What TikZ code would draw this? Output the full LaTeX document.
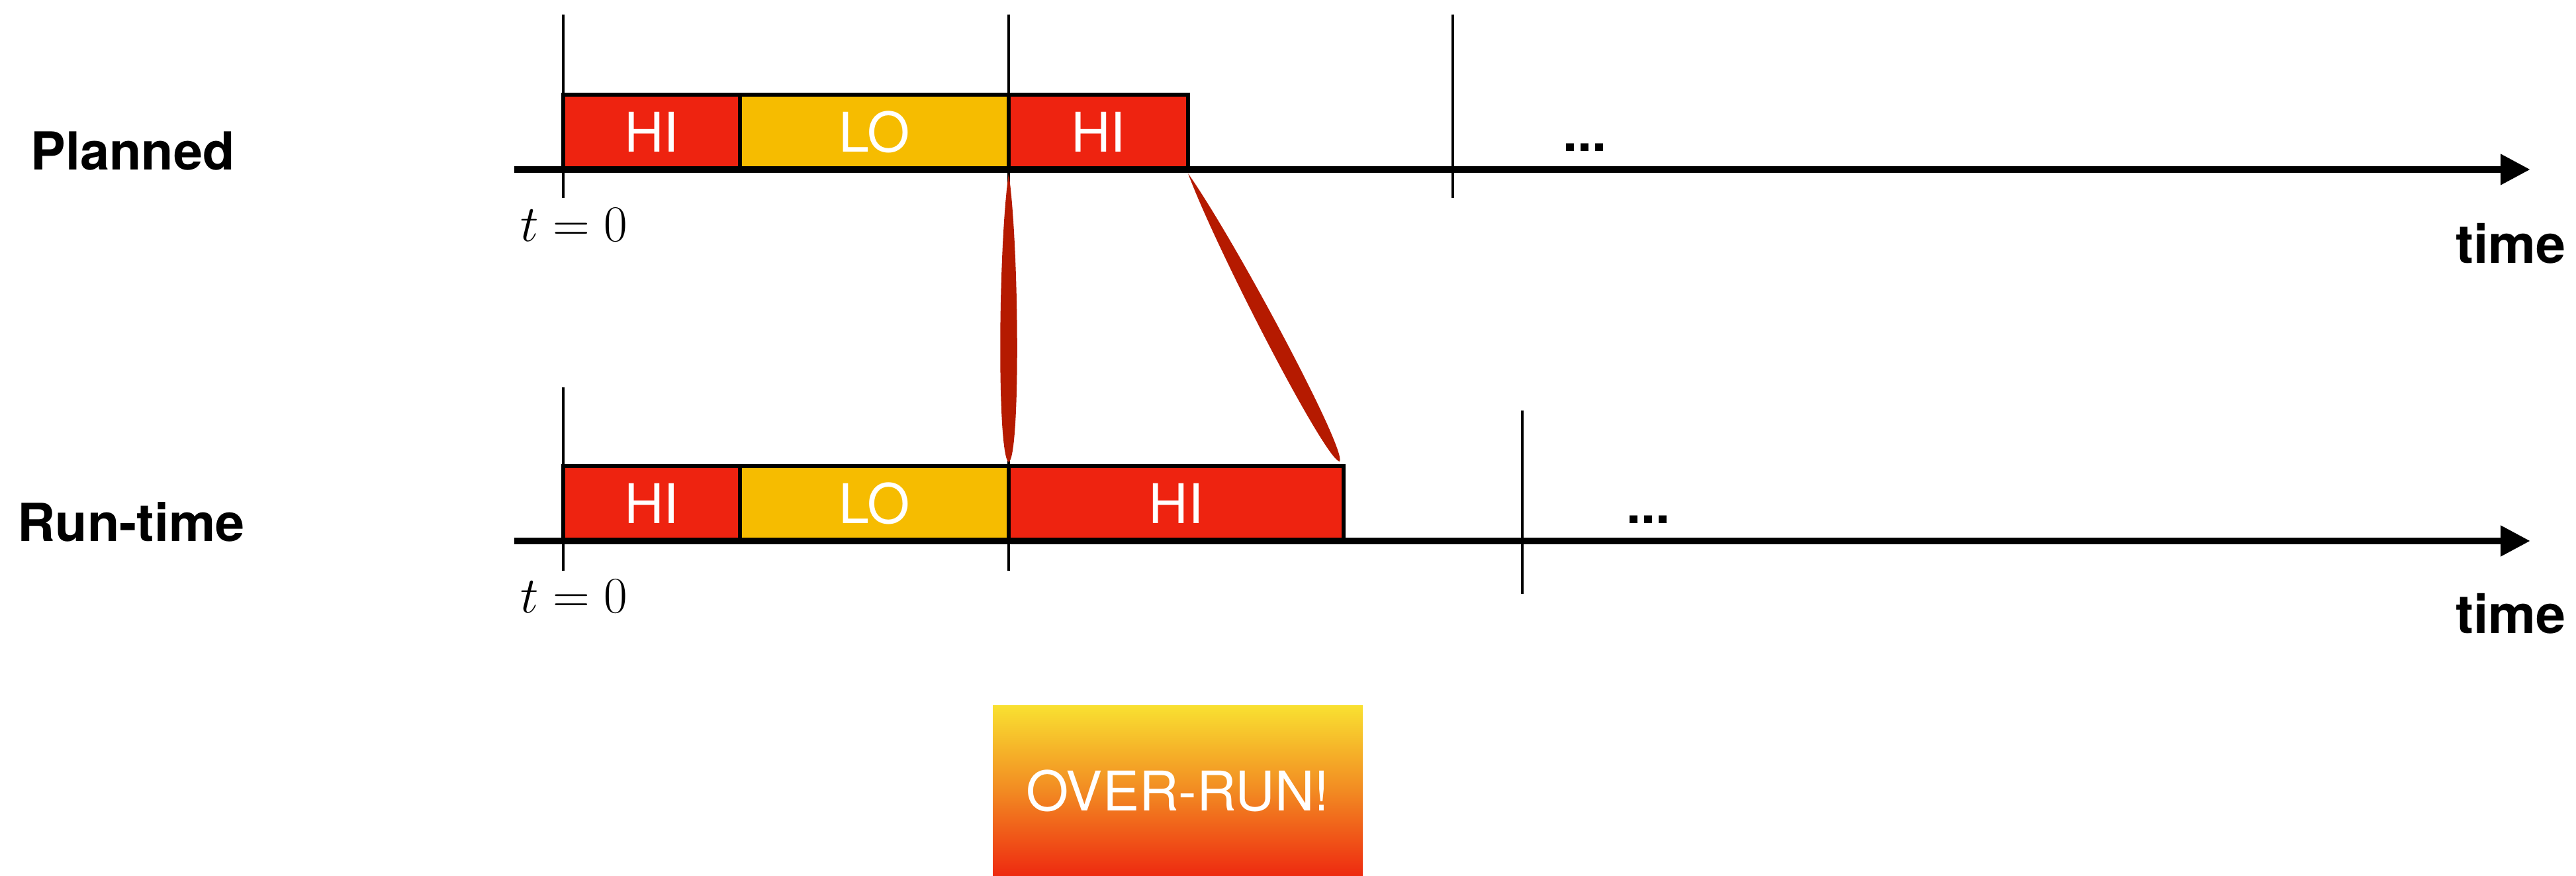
\RequirePackage{fix-cm}
\documentclass[tikz,border=0pt]{standalone}
\usepackage[no-math]{fontspec}
\setsansfont{TeX Gyre Heros}
\usetikzlibrary{arrows.meta, calc}
\definecolor{hired}{HTML}{EE2310}
\definecolor{loamber}{HTML}{F6BC00}
\definecolor{brushred}{HTML}{B51A00}
\definecolor{runtop}{HTML}{F9E031}
\definecolor{runmid}{HTML}{F28A22}
\definecolor{runbot}{HTML}{EE2A10}
\tikzset{
  slot/.style={rectangle, draw=black, fill=#1, line width=1.5pt, inner sep=0pt,
               outer sep=0pt, minimum height=1.13cm, anchor=south west, text=white,
               font=\sffamily\fontsize{23.5}{28}\selectfont},
  slot/.default=hired,
  tline/.style={-{Triangle[length=0.45cm, width=0.44cm]}, line width=3.1pt},
  tmark/.style={line width=1.1pt},
  rowlbl/.style={anchor=base west, inner sep=0pt, font=\sffamily\bfseries\fontsize{22.5}{28}\selectfont},
  timelbl/.style={anchor=base east, inner sep=0pt, font=\sffamily\bfseries\fontsize{23}{28}\selectfont},
  zerolbl/.style={anchor=base west, inner sep=0pt, font=\fontsize{22}{26}\selectfont},
  brush/.style={fill=brushred},
  overrun/.style={rectangle, inner sep=0pt, minimum width=5.59cm, minimum height=2.57cm,
                  top color=runtop, bottom color=runbot, middle color=runmid, text=white,
                  font=\sffamily\fontsize{23.5}{28}\selectfont},
}
\newcommand{\brushstroke}[2]{%
  \fill[brush] (#1) .. controls ($(#1)!0.25!(#2)!0.16cm!90:(#2)$) and ($(#1)!0.98!(#2)!0.18cm!90:(#2)$) .. (#2)
    .. controls ($(#1)!0.98!(#2)!0.18cm!-90:(#2)$) and ($(#1)!0.25!(#2)!0.16cm!-90:(#2)$) .. (#1) -- cycle;}

\begin{document}
\begin{tikzpicture}
  \useasboundingbox (0,0) rectangle (38.92,13.23);

  % ticks
  \foreach \x in {8.51, 15.24, 21.95}
    \draw[tmark] (\x, 13.01) -- (\x, 10.24);
  \foreach \x/\y in {8.51/7.38, 15.24/7.38, 23.00/7.03}
    \draw[tmark] (\x, \y) -- ++(0, -2.77);

  % planned schedule
  \node[slot, minimum width=2.67cm] (phi1) at (8.51, 10.67) {HI};
  \node[slot=loamber, minimum width=4.06cm] (plo) at (11.18, 10.67) {LO};
  \node[slot, minimum width=2.71cm] (phi2) at (15.24, 10.67) {HI};

  % run-time schedule
  \node[slot, minimum width=2.67cm] (rhi1) at (8.51, 5.06) {HI};
  \node[slot=loamber, minimum width=4.06cm] (rlo) at (11.18, 5.06) {LO};
  \node[slot, minimum width=5.06cm] (rhi2) at (15.24, 5.06) {HI};

  \coordinate (pstart) at (7.77, 10.67);
  \coordinate (pend) at (38.23, 10.67);
  \coordinate (rstart) at (7.77, 5.06);
  \coordinate (rend) at (38.23, 5.06);
  \draw[tline] (pstart) -- (pend);
  \draw[tline] (rstart) -- (rend);

  \node[rowlbl] (plan) at (0.46, 10.66) {Planned};
  \node[rowlbl] (run) at (0.26, 5.05) {Run-time};
  \node[zerolbl] (pzero) at (7.86, 9.58) {$t=0$};
  \node[zerolbl] (rzero) at (7.86, 3.97) {$t=0$};
  \node[rowlbl] (pdots) at (23.61, 10.94) {...};
  \node[rowlbl] (rdots) at (24.57, 5.32) {...};
  \node[timelbl] (ptime) at (38.77, 9.25) {time};
  \node[timelbl] (rtime) at (38.77, 3.66) {time};

  \coordinate (s1a) at ([yshift=-0.06cm]phi2.south west);
  \coordinate (s1b) at ([yshift=0.06cm]rhi2.north west);
  \coordinate (s2a) at ([yshift=-0.06cm]phi2.south east);
  \coordinate (s2b) at ([xshift=-0.06cm, yshift=0.07cm]rhi2.north east);
  \brushstroke{s1a}{s1b}
  \brushstroke{s2a}{s2b}

  \node[overrun] (over) at (17.795, 1.285) {OVER-RUN!};
\end{tikzpicture}
\end{document}
